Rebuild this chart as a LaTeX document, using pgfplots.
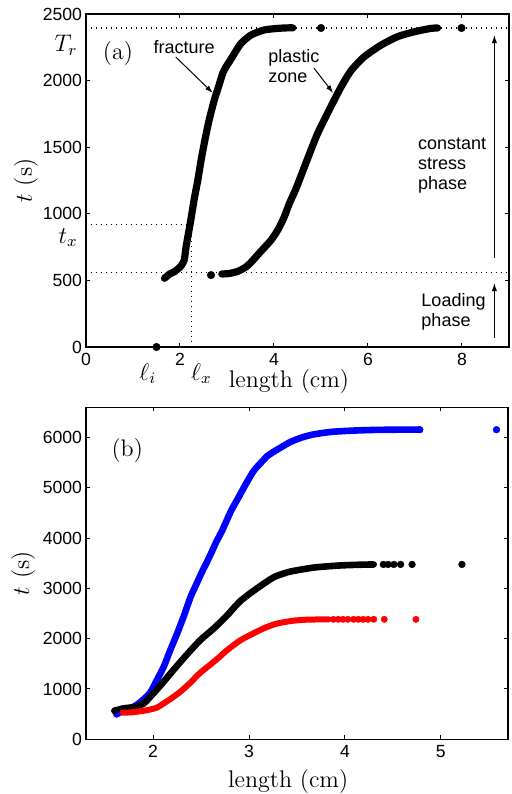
\documentclass[border=0pt]{standalone}
\usepackage{pgfplots}
\pgfplotsset{compat=1.18}
\usepackage{fontspec}
\newfontfamily\helv{Liberation Sans}
\usetikzlibrary{arrows.meta}

\newcommand{\annfont}{\helv\fontsize{9}{10}\selectfont}
\newcommand{\cmfont}{\fontsize{12}{14}\selectfont}

\pgfplotsset{
  panel/.style={
    scale only axis,
    clip=false,
    axis line style={line width=0.7pt},
    tick style={line width=0.5pt, black},
    major tick length=2pt,
    tick align=inside,
    tick label style={font=\helv\fontsize{8.8}{10}\selectfont},
    yticklabel style={inner sep=1.8pt},
    xticklabel style={inner sep=0.8pt, yshift=-2.2pt},
    /pgf/number format/assume math mode=true,
    /pgf/number format/1000 sep={},
    label style={font=\cmfont, inner sep=0pt},
  },
  curve/.style={line width=#1, line join=round, line cap=round, mark=none,
    smooth, tension=0.4},
  dot/.style={only marks, mark=*, mark size=#1, mark options={line width=0.2pt}},
}
\tikzset{
  dots/.style={black, line width=0.6pt, dash pattern=on 0.6pt off 1.9pt},
  arr/.style={-{Latex[length=4pt,width=2.6pt]}, line width=0.5pt},
}

\begin{document}
\begin{tikzpicture}
\useasboundingbox (-43pt,-27.35pt) rectangle (213pt,369.65pt);

% ---------------- (a) fracture and plastic zone lengths ----------------
\begin{axis}[panel,
  at={(0pt,196.15pt)}, anchor=south west,
  width=211.5pt, height=166.5pt,
  xmin=0, xmax=9, ymin=0, ymax=2500,
  xtick={0,2,4,6,8}, ytick={0,500,...,2500},
  xlabel={length (cm)}, ylabel={$t$ (s)},
  xlabel style={at={(axis description cs:0.48,-0.104)}, anchor=center},
  ylabel style={at={(axis description cs:-0.142,0.5)}, anchor=center},
]
% reference levels
\addplot[dots, mark=none] coordinates {(0,2395) (9,2395)};
\addplot[dots, mark=none] coordinates {(0,558) (9,558)};
\addplot[dots, mark=none] coordinates {(0,918) (2.25,918)};
\addplot[dots, mark=none] coordinates {(2.25,0) (2.25,918)};

% fracture length
\addplot[black, curve=3.6pt] coordinates {
  (1.67,516) (1.78,548) (1.88,565) (1.97,590) (2.03,612) (2.09,653)
  (2.13,753) (2.18,853) (2.23,953) (2.30,1104) (2.38,1254) (2.45,1404)
  (2.53,1554) (2.62,1704) (2.73,1854) (2.82,1954) (2.91,2055) (2.98,2104)
  (3.05,2142) (3.16,2205) (3.30,2280) (3.51,2342) (3.79,2380) (4.08,2392)
  (4.29,2396) (4.40,2396)};
\addplot[black, dot=1.9pt] coordinates {(5.0,2395) (1.5,0)};

% plastic zone length
\addplot[black, curve=3.6pt] coordinates {
  (2.89,548) (3.05,552) (3.23,568) (3.40,600) (3.51,635) (3.70,710)
  (3.94,803) (4.10,890) (4.22,978) (4.33,1080) (4.47,1190) (4.70,1400)
  (4.93,1604) (5.21,1804) (5.43,1954) (5.64,2075) (5.92,2179) (6.28,2267)
  (6.63,2330) (6.99,2367) (7.34,2392) (7.48,2395)};
\addplot[black, dot=1.9pt] coordinates {(2.66,540) (7.99,2395)};

% annotations
\node[font=\cmfont] at (axis cs:0.68,2207) {(a)};
\node[font=\annfont] at (axis cs:2.09,2252) {fracture};
\draw[arr] (axis cs:1.91,2177) -- (axis cs:2.70,1907);
\node[font=\annfont, align=left, anchor=west, inner sep=0pt] at (axis cs:3.87,2110) {plastic\\zone};
\draw[arr] (axis cs:4.85,2094) -- (axis cs:5.26,1907);
\node[font=\annfont, align=left, anchor=west, inner sep=0pt] at (axis cs:7.06,1359) {constant\\stress\\phase};
\draw[arr] (axis cs:8.69,668) -- (axis cs:8.69,2342);
\node[font=\annfont, align=left, anchor=west, inner sep=0pt] at (axis cs:7.13,266) {Loading\\phase};
\draw[arr] (axis cs:8.69,68) -- (axis cs:8.69,480);

% marked levels and lengths
\node[font=\cmfont, anchor=base east, inner sep=0pt, xshift=-4pt, yshift=-12pt] at (axis cs:0,2395) {$T_r$};
\node[font=\cmfont, anchor=base east, inner sep=0pt, xshift=-4pt, yshift=-9.3pt] at (axis cs:0,918) {$t_x$};
\node[font=\cmfont, anchor=north east, inner sep=0pt, yshift=-8pt] at (axis cs:1.5,0) {$\ell_i$};
\node[font=\cmfont, anchor=north west, inner sep=0pt, yshift=-8pt] at (axis cs:2.23,0) {$\ell_x$};
\end{axis}

% ---------------- (b) three fracture curves ----------------
\begin{axis}[panel,
  at={(0pt,0pt)}, anchor=south west,
  width=211pt, height=166pt,
  xmin=1.3, xmax=5.7, ymin=0, ymax=6600,
  xtick={2,3,4,5}, ytick={0,1000,...,6000},
  xlabel={length (cm)}, ylabel={$t$ (s)},
  xlabel style={at={(axis description cs:0.479,-0.126)}, anchor=center},
  ylabel style={at={(axis description cs:-0.149,0.5)}, anchor=center},
]
% blue series
\addplot[blue, curve=3.3pt] coordinates {
  (1.62,502) (1.70,580) (1.80,650) (1.88,760) (1.97,930) (2.04,1180)
  (2.11,1440) (2.18,1780) (2.25,2102) (2.32,2450) (2.39,2828) (2.45,3080)
  (2.51,3330) (2.56,3520) (2.61,3720) (2.66,3930) (2.72,4150) (2.81,4530)
  (2.91,4878) (2.98,5120) (3.05,5340) (3.12,5490) (3.19,5630) (3.26,5720)
  (3.33,5800) (3.43,5910) (3.55,6000) (3.67,6060) (3.85,6110) (4.06,6135)
  (4.30,6150) (4.54,6155) (4.78,6155)};
\addplot[blue, dot=1.7pt] coordinates {(1.62,502) (4.78,6155) (5.58,6155)};

% black series
\addplot[black, curve=3.3pt] coordinates {
  (1.60,567) (1.69,615) (1.80,640) (1.90,710) (1.97,845) (2.09,1100)
  (2.21,1374) (2.35,1680) (2.49,1969) (2.63,2200) (2.77,2460) (2.84,2610)
  (2.91,2750) (3.01,2900) (3.12,3050) (3.26,3224) (3.40,3320) (3.53,3370)
  (3.70,3420) (3.95,3456) (4.15,3470) (4.30,3476)};
\addplot[black, dot=1.7pt] coordinates {
  (1.60,567) (4.40,3476) (4.45,3476) (4.51,3476) (4.58,3476) (4.70,3476) (5.22,3476)};

% red series
\addplot[red, curve=3.0pt] coordinates {
  (1.68,528) (1.80,540) (1.94,580) (2.04,630) (2.11,714) (2.18,800)
  (2.28,940) (2.38,1110) (2.49,1320) (2.60,1490) (2.70,1650) (2.77,1771)
  (2.91,1969) (3.05,2110) (3.17,2220) (3.29,2300) (3.45,2355) (3.60,2378)
  (3.83,2385)};
\addplot[red, dot=1.6pt] coordinates {
  (3.88,2385) (3.93,2385) (3.98,2385) (4.03,2385) (4.09,2385)
  (4.14,2385) (4.19,2385) (4.24,2385) (4.30,2385) (4.41,2385) (4.74,2385)};

\node[font=\cmfont] at (axis cs:1.73,5737) {(b)};
\end{axis}
\end{tikzpicture}
\end{document}
